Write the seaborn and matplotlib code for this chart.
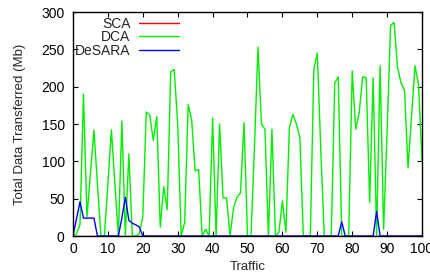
import matplotlib
matplotlib.use("Agg")
import matplotlib.pyplot as plt
import pandas as pd
import seaborn as sns
import numpy as np

# traffic index 0..100
traffic = list(range(101))

sca = [0] * 101

dca = [0, 3, 15, 190, 26, 84, 142, 70, 0, 0,
       70, 142, 70, 0, 154, 0, 110, 0, 0, 3,
       26, 166, 162, 128, 160, 12, 66, 35, 220, 223,
       150, 0, 18, 176, 156, 87, 89, 0, 9, 0,
       158, 0, 150, 51, 51, 0, 38, 52, 58, 152,
       0, 0, 120, 253, 150, 143, 0, 143, 0, 5,
       47, 5, 145, 163, 150, 132, 0, 0, 0, 223,
       245, 115, 0, 0, 0, 205, 213, 0, 0, 0,
       221, 143, 165, 213, 212, 45, 212, 0, 228, 9,
       140, 282, 286, 225, 205, 195, 91, 160, 228, 203,
       100]

desara = [0, 23, 46, 24, 24, 24, 24, 0, 0, 0,
          0, 0, 0, 0, 24, 52, 21, 17, 15, 12,
          0] + [0] * 56 + [19] + [0] * 9 + [33] + [0] * 13

names = ['SCA', 'DCA', 'DeSARA']
colors = ['#ff0000', '#00f000', '#0000ff']

df = pd.DataFrame({
    'Traffic': traffic * 3,
    'value': sca + dca + desara,
    'scheme': [n for n in names for _ in traffic],
})

sns.set_theme(style="ticks")
plt.rcParams['font.family'] = ['Liberation Sans', 'DejaVu Sans']

fig = plt.figure(figsize=(4.31, 2.78), dpi=100)
ax = fig.add_axes([73 / 431, 1 - 236 / 278, 349 / 431, 224 / 278])

sns.lineplot(data=df, x='Traffic', y='value', hue='scheme', hue_order=names,
             palette=dict(zip(names, colors)), linewidth=1.0, errorbar=None,
             legend=False, ax=ax)

ax.set_xlim(0, 100)
ax.set_ylim(0, 300)
ax.set_xticks(np.arange(0, 101, 10))
ax.set_yticks(np.arange(0, 301, 50))
ax.tick_params(direction='in', top=True, right=True, length=3.5, width=0.8,
               labelsize=10, colors='black')
ax.tick_params(axis='x', pad=4.5)
ax.tick_params(axis='y', pad=6)
for s in ax.spines.values():
    s.set_linewidth(1.0)
    s.set_color('black')

ax.set_xlabel('Traffic', fontsize=9.5)
ax.set_ylabel('Total Data Transferred (Mb)', fontsize=9.5)
ax.xaxis.set_label_coords(0.5, -0.112)
ax.yaxis.set_label_coords(-0.135, 0.5)

handles = ax.get_lines()[:3]
ax.legend(handles, names, loc='upper left', bbox_to_anchor=(0.006, 0.978),
          markerfirst=False, frameon=False, handlelength=2.9,
          handletextpad=0.6, borderpad=0, borderaxespad=0,
          labelspacing=-0.05, fontsize=10)

fig.savefig('out.png', dpi=100)
